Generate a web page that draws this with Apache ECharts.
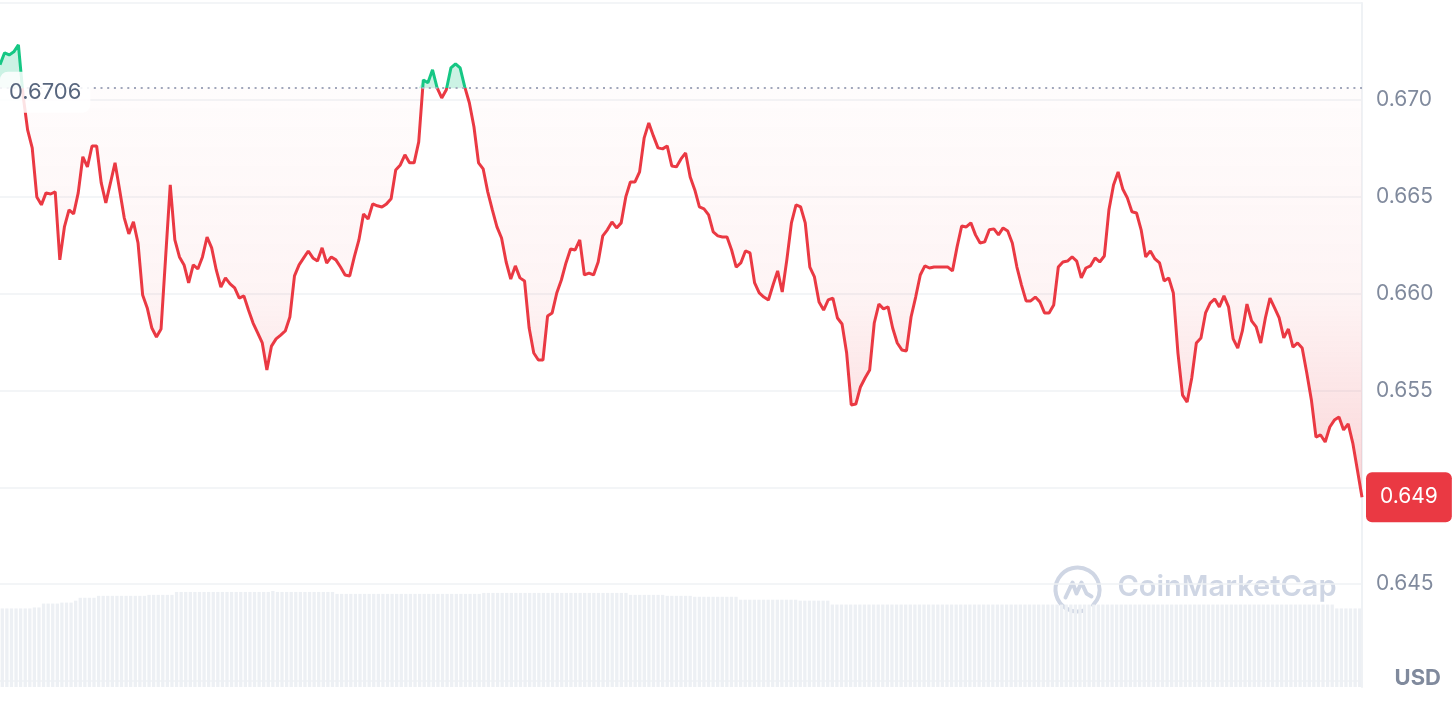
<!DOCTYPE html>
<html><head><meta charset="utf-8">
<script src="https://cdn.jsdelivr.net/npm/echarts@6/dist/echarts.min.js"></script>
<style>html,body{margin:0;padding:0;background:#fff}#c{width:1456px;height:702px}</style>
</head><body><div id="c"></div>
<script>
const BASE_PRICE = 0.6706;
const LAST_LABEL = '0.649';
const CURRENCY = 'USD';
const BRAND = 'CoinMarketCap';
const shownTicks = ['0.645', '0.655', '0.660', '0.665', '0.670'];

const prices = [
0.67181,0.67243,0.67232,0.67248,0.67284,0.67026,0.66845,0.66752,0.66499,0.66458,
0.66520,0.66514,0.66525,0.66174,0.66344,0.66432,0.66411,0.66520,0.66706,0.66654,
0.66762,0.66762,0.66571,0.66468,0.66571,0.66675,0.66535,0.66391,0.66308,0.66370,
0.66261,0.65993,0.65926,0.65822,0.65776,0.65817,0.66189,0.66561,0.66277,0.66189,
0.66148,0.66055,0.66148,0.66127,0.66189,0.66292,0.66236,0.66122,0.66034,0.66081,
0.66050,0.66029,0.65977,0.65988,0.65915,0.65848,0.65797,0.65745,0.65605,0.65729,
0.65766,0.65786,0.65807,0.65879,0.66091,0.66148,0.66184,0.66220,0.66184,0.66168,
0.66236,0.66158,0.66189,0.66174,0.66137,0.66096,0.66091,0.66189,0.66277,0.66411,
0.66385,0.66463,0.66453,0.66447,0.66463,0.66489,0.66638,0.66664,0.66716,0.66675,
0.66675,0.66783,0.67103,0.67088,0.67155,0.67062,0.67010,0.67052,0.67165,0.67186,
0.67165,0.67067,0.66985,0.66861,0.66675,0.66644,0.66525,0.66432,0.66344,0.66287,
0.66163,0.66075,0.66143,0.66081,0.66065,0.65822,0.65693,0.65657,0.65657,0.65884,
0.65900,0.66003,0.66070,0.66158,0.66230,0.66225,0.66277,0.66096,0.66106,0.66096,
0.66163,0.66298,0.66329,0.66370,0.66339,0.66365,0.66499,0.66576,0.66576,0.66628,
0.66804,0.66881,0.66814,0.66752,0.66747,0.66762,0.66659,0.66654,0.66695,0.66726,
0.66602,0.66535,0.66447,0.66437,0.66406,0.66318,0.66298,0.66292,0.66292,0.66225,
0.66137,0.66158,0.66220,0.66210,0.66055,0.66003,0.65982,0.65967,0.66044,0.66117,
0.66008,0.66174,0.66365,0.66458,0.66447,0.66365,0.66137,0.66086,0.65957,0.65915,
0.65967,0.65977,0.65874,0.65843,0.65693,0.65425,0.65430,0.65518,0.65564,0.65605,
0.65848,0.65946,0.65921,0.65931,0.65822,0.65745,0.65709,0.65704,0.65879,0.65982,
0.66096,0.66143,0.66132,0.66137,0.66137,0.66137,0.66137,0.66117,0.66241,0.66349,
0.66344,0.66365,0.66303,0.66261,0.66267,0.66329,0.66334,0.66303,0.66339,0.66323,
0.66261,0.66137,0.66044,0.65962,0.65962,0.65982,0.65957,0.65900,0.65900,0.65941,
0.66137,0.66163,0.66168,0.66189,0.66168,0.66081,0.66132,0.66143,0.66184,0.66163,
0.66194,0.66432,0.66561,0.66628,0.66540,0.66494,0.66422,0.66416,0.66329,0.66189,
0.66220,0.66179,0.66158,0.66065,0.66081,0.66003,0.65693,0.65476,0.65440,0.65564,
0.65745,0.65771,0.65900,0.65951,0.65972,0.65931,0.65988,0.65931,0.65766,0.65719,
0.65807,0.65946,0.65859,0.65828,0.65745,0.65874,0.65977,0.65926,0.65874,0.65771,
0.65817,0.65724,0.65745,0.65719,0.65590,0.65451,0.65259,0.65270,0.65234,0.65311,
0.65347,0.65363,0.65296,0.65327,0.65228,0.65089,0.64949
];

const volumes = [
81,81,81,81,81,81,81,82,82,86,
86,86,86,87,87,87,89,92,92,92,
92,94,94,94,94,94,94,94,94,94,
94,94,95,95,95,95,95,95,98,98,
98,98,98,98,98,98,98,98,98,98,
98,98,98,98,98,98,98,98,98,99,
98,98,98,98,98,98,98,98,98,98,
98,98,98,96,96,96,96,96,96,96,
96,96,96,96,96,96,96,96,96,96,
96,96,96,96,96,96,96,96,96,96,
96,96,96,96,96,97,97,97,97,97,
97,97,97,97,97,97,97,97,97,97,
97,97,97,97,97,97,97,97,97,97,
97,97,97,97,97,97,97,95,95,95,
95,95,95,95,95,94,94,94,94,94,
94,93,93,93,93,93,93,93,93,93,
93,90,90,90,90,90,90,90,90,90,
90,90,90,90,89,89,89,89,89,89,
89,85,85,85,85,85,85,85,85,85,
85,85,85,85,85,85,85,85,85,85,
85,85,85,85,85,85,85,85,85,85,
85,85,85,85,85,85,85,85,85,85,
85,85,85,85,85,85,85,85,85,85,
85,85,85,85,85,85,85,85,85,85,
85,85,85,85,85,85,85,85,85,85,
85,85,85,85,85,85,85,85,85,85,
85,85,85,85,85,85,85,85,85,85,
85,85,85,85,85,85,85,85,85,85,
85,85,85,85,85,85,85,85,85,85,
85,81,81,81,81,81,81
];

const categories = prices.map((_, i) => i);
const RED = '#ea3943', GREEN = '#16c784';
const FONT = 'Inter';

const chart = echarts.init(document.getElementById('c'), null, {renderer: 'canvas'});
const lastIdx = prices.length - 1;

chart.setOption({
  animation: false,
  grid: [
    {left: 0, right: 94, top: 3, bottom: 21},
    {left: 0, right: 94, top: 590, bottom: 15}
  ],
  xAxis: [
    {type: 'category', data: categories, boundaryGap: false, show: false, gridIndex: 0},
    {type: 'category', data: categories, boundaryGap: true, show: false, gridIndex: 1}
  ],
  yAxis: [
    {
      type: 'value', gridIndex: 0, position: 'right', min: 0.640, max: 0.675, interval: 0.005,
      axisLine: {show: true, lineStyle: {color: '#eff2f5', width: 2}},
      axisTick: {show: false},
      splitLine: {show: true, lineStyle: {color: '#eff2f5', width: 1.5}},
      axisLabel: {
        margin: 14, color: '#808a9d', fontSize: 21, fontFamily: FONT,
        formatter: v => { const s = v.toFixed(3); return shownTicks.includes(s) ? s : ''; }
      }
    },
    {
      type: 'value', gridIndex: 1, position: 'right', min: 0, max: 100,
      axisLine: {show: true, lineStyle: {color: '#eff2f5', width: 2}},
      axisTick: {show: false}, axisLabel: {show: false}, splitLine: {show: false}
    }
  ],
  visualMap: {
    type: 'piecewise', show: false, seriesIndex: 3, dimension: 1,
    pieces: [
      {gt: BASE_PRICE, lte: 1, color: GREEN},
      {gte: 0, lte: BASE_PRICE, color: RED}
    ]
  },
  series: [
    {
      type: 'bar', xAxisIndex: 1, yAxisIndex: 1, data: volumes, silent: true,
      barCategoryGap: '28%', itemStyle: {color: '#edf0f4'}
    },
    {
      type: 'line', xAxisIndex: 0, yAxisIndex: 0, silent: true, symbol: 'none',
      data: prices.map(v => Math.min(v, BASE_PRICE)),
      lineStyle: {width: 0, opacity: 0},
      areaStyle: {
        origin: BASE_PRICE,
        color: new echarts.graphic.LinearGradient(0, 0, 0, 1, [
          {offset: 0, color: 'rgba(234,57,67,0.02)'},
          {offset: 0.5, color: 'rgba(234,57,67,0.08)'},
          {offset: 1, color: 'rgba(234,57,67,0.3)'}
        ])
      }
    },
    {
      type: 'line', xAxisIndex: 0, yAxisIndex: 0, silent: true, symbol: 'none',
      data: prices.map(v => Math.max(v, BASE_PRICE)),
      lineStyle: {width: 0, opacity: 0},
      areaStyle: {origin: BASE_PRICE, color: 'rgba(22,199,132,0.32)'}
    },
    {
      type: 'line', xAxisIndex: 0, yAxisIndex: 0, silent: true, symbol: 'none',
      data: prices,
      lineStyle: {width: 3},
      markLine: {
        silent: true, symbol: 'none', precision: 4,
        label: {show: false},
        lineStyle: {type: [2, 4.7], color: '#a1a7bb', width: 2},
        data: [{yAxis: BASE_PRICE}]
      },
      markPoint: {
        silent: true,
        data: [
          {
            coord: [0, BASE_PRICE], symbol: 'circle', symbolSize: 0,
            label: {
              show: true, position: 'right', distance: 0, offset: [0, 4],
              formatter: BASE_PRICE.toFixed(4),
              backgroundColor: 'rgba(255,255,255,0.86)', color: '#58667e',
              fontSize: 22, fontFamily: FONT, lineHeight: 25,
              padding: [8, 9], borderRadius: 8
            }
          },
          {
            coord: [lastIdx, prices[lastIdx]], symbol: 'circle', symbolSize: 0,
            label: {
              show: true, position: 'right', distance: 4,
              formatter: LAST_LABEL,
              backgroundColor: RED, color: '#ffffff',
              fontSize: 21, fontFamily: FONT, lineHeight: 28,
              padding: [11, 14], borderRadius: 6
            }
          }
        ]
      }
    }
  ],
  graphic: [
    {
      type: 'text', right: 15, bottom: 13, z: 10,
      style: {text: CURRENCY, fill: '#808a9d', font: 'bold 22px Inter'}
    },
    {
      type: 'group', left: 1053, top: 565, z: 1, silent: true,
      children: [
        {type: 'arc', shape: {cx: 24, cy: 24, r: 22, startAngle: Math.PI * 0.42, endAngle: Math.PI * 2.25}, style: {stroke: '#cfd6e4', lineWidth: 4, fill: null, lineCap: 'round'}},
        {type: 'polyline', shape: {points: [[12, 32], [19, 17], [23, 28], [28, 17], [33, 28], [38, 31]]}, style: {stroke: '#cfd6e4', lineWidth: 4, fill: null, lineJoin: 'round', lineCap: 'round'}},
        {type: 'text', left: 64, top: 7, style: {text: BRAND, fill: '#cfd6e4', font: '600 29px Inter'}}
      ]
    }
  ]
});
</script>
</body></html>
